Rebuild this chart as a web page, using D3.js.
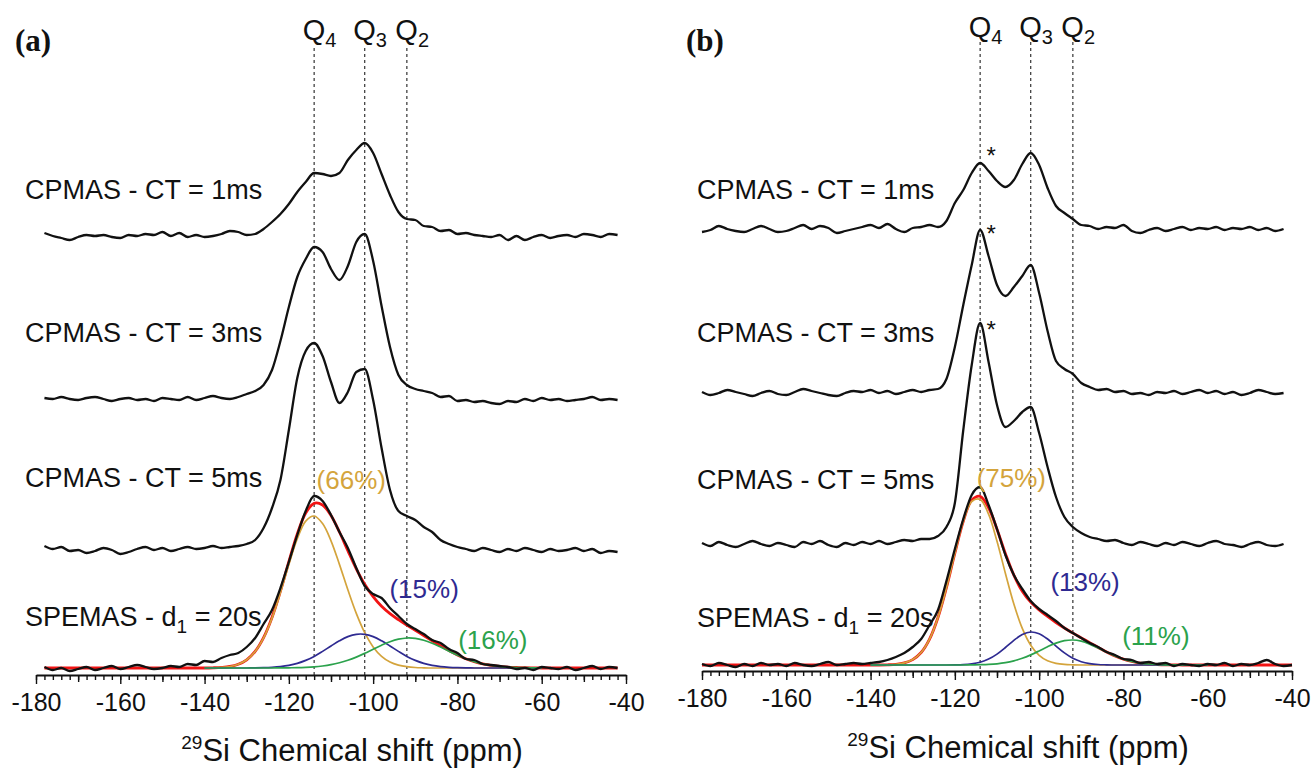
<!DOCTYPE html>
<html>
<head>
<meta charset="utf-8">
<script src="https://cdn.jsdelivr.net/npm/d3@7"></script>
<style>
  body { margin: 0; background: #fff; }
  svg { display: block; }
  text { font-family: "Liberation Sans", Arial, sans-serif; fill: #111; }
</style>
</head>
<body>
<svg id="chart" width="1312" height="774"></svg>
<script>
// ---------- chemical shift grids (ppm, 2 ppm steps) ----------
const ppmA   = d3.range(-178, -41, 2);   // panel (a) spectra
const ppmBcp = d3.range(-180, -41, 2);   // panel (b) CPMAS spectra
const ppmBsp = d3.range(-180, -39, 2);   // panel (b) SPEMAS spectrum
const ppmFit = d3.range(-140, -59, 2);   // deconvolution components

// ---------- axis ----------
const shiftDomain = [-180, -40];
const majorTicks = [-180, -160, -140, -120, -100, -80, -60, -40];
const tickLabels = ["-180", "-160", "-140", "-120", "-100", "-80", "-60", "-40"];
const qShifts = [-114, -102, -92];
const qSubs = ["4", "3", "2"];

const cpLabels = ["CPMAS - CT = 1ms", "CPMAS - CT = 3ms", "CPMAS - CT = 5ms"];

// ---------- panel (a) intensities (a.u.) ----------
const aCt1 = [3,0,-2,-4,-1,1,0,1,-1,-2, 1,0,2,1,4,0,3,-1,1,-1, 0,2,5,4,1,2,7,14,22,32,
  44,54,63,62,60,63,76,86,93,83, 62,41,24,17,16,10,9,5,6,2, 3,1,0,-1,1,-4,0,-4,-1,1,
  -2,0,1,-1,2,1,-1,2,1];
const aCt3 = [1,0,2,0,-1,1,2,0,-2,0, 1,-1,0,-2,1,0,-1,2,-1,1, 3,1,0,2,
  5,8,14,29,58,92,122,140,152,147, 130,119,133,157,165,138,93,52,24,14,
  10,8,6,2,3,-2,-1,-3,-2,-4, -5,-2,-3,0,-2,1,-1,0,-2,-1, 0,2,-1,0,-1];
const aCt5 = [4,1,3,-1,0,-3,-1,2,0,-4, -2,1,3,0,2,-1,1,3,1,2, 4,2,3,4,
  6,10,22,42,70,120,172,199,207,194, 168,147,158,178,181,150,102,60,39,34,
  30,23,18,10,6,3,1,-1,2,0, -2,1,-1,2,0,-2,1,-1,0,2, -1,1,-3,-1,-2];
const aSpe = [1,-2,0,-3,-1,1,-2,0,2,-1, 1,3,1,-1,0,2,1,
  4,3,7,6,10,13,15,21,30,44,58,80,106,133,157,172,167,153,136,120,100,82,74,70,60,52,44,39,34,28,
  25,19,15,9,8,4,3,2,1,-1,0,-2,1,0,-1,1,-2,0,2,-1,1,0];
const aGold  = [0,0.2,0.6,1.5,3.7,8.2,16.5,30.1,49.9,75.4, 103.5,129.2,146.9,152,144.4,127.2,103.6,78.2,54.6,35.3,
  21.1,11.7,6.0,2.9,1.3,0.5,0.2,0,0,0, 0,0,0,0,0,0,0,0,0,0, 0];
const aBlue  = [0,0,0,0,0,0,0.1,0.3,0.7,1.4, 2.6,4.6,7.6,11.6,16.6,22.0,27.2,31.4,33.7,33.7,
  31.4,27.2,22.0,16.6,11.6,7.6,4.6,2.6,1.4,0.7, 0.3,0.1,0,0,0,0,0,0,0,0, 0];
const aGreen = [0,0,0,0,0,0,0,0,0,0.1, 0.2,0.3,0.6,1.1,2.0,3.3,5.2,7.7,10.9,14.7,
  18.8,22.8,26.3,28.8,30.0,29.6,27.7,24.7,20.9,16.8, 12.8,9.2,6.4,4.2,2.6,1.5,0.8,0.5,0.3,0.1, 0];
const aPercent = [66, 15, 16];

// ---------- panel (b) intensities (a.u.) ----------
const bCt1 = [-2,0,4,1,-1,-2,1,4,1,-2, -1,2,5,1,4,2,-3,-1,1,3, 5,2,6,1,-2,2,3,5,3,9,
  27,40,57,67,59,49,43,50,66,77, 65,42,24,17,11,5,4,1,3,2, 5,-1,-3,0,2,-1,1,3,0,2,
  1,3,0,2,1,3,0,2,-1,1];
const bCt3 = [1,-2,0,3,1,-1,-3,0,2,-1, -2,1,4,2,0,-2,-3,0,2,1, 3,0,2,-1,1,3,1,3,4,14,
  46,88,128,163,137,108,97,106,117,128, 100,62,32,24,19,10,6,3,4,1, 2,-1,0,-2,1,0,2,-1,1,3,
  0,2,-1,1,-2,0,3,1,-1,0];
const bCt5 = [2,-1,3,0,-2,1,4,1,-1,2, 0,-2,3,1,4,0,-2,2,0,3, 1,4,1,3,5,4,6,6,9,18,
  42,115,180,222,183,140,118,124,133,138, 112,78,48,28,18,12,8,6,4,5, 2,0,3,1,-1,2,0,3,1,-1,
  2,4,1,0,-2,1,3,0,-1,1];
const bSpe = [1,-1,2,0,-2,1,-1,2,0,1, -1,2,0,-1,1,3,0,1,2,1, 2,3,5,8,12,18,26,40,55,84,
  116,146,170,178,160,136,110,90,76,64, 56,50,44,37,32,27,22,18,13,10, 6,5,2,3,1,2,-1,1,0,-1,
  1,0,2,-1,1,0,2,5,1,-1, 0];
const bGold  = [0,0,0.2,0.7,2.1,5.4,12.5,25.9,47.5,77.3, 111.7,143.4,163.5,165.6,150.8,123.7,91.5,61.0,36.6,19.8,
  9.7,4.2,1.7,0.6,0.2,0,0,0,0,0, 0,0,0,0,0,0,0,0,0,0, 0];
const bBlue  = [0,0,0,0,0,0,0,0,0,0, 0.1,0.4,1.2,2.8,5.9,10.9,17.5,24.7,30.5,33.0,
  31.3,26.0,18.9,12.1,6.7,3.3,1.4,0.5,0.2,0, 0,0,0,0,0,0,0,0,0,0, 0];
const bGreen = [0,0,0,0,0,0,0,0,0,0, 0,0,0.1,0.3,0.6,1.2,2.3,4.1,6.7,10.1,
  14.1,18.3,21.9,24.3,25.0,23.8,20.9,17.0,12.9,9.0, 5.8,3.5,1.9,1.0,0.5,0.2,0.1,0,0,0, 0];
const bPercent = [75, 13, 11];

// ---------- styling ----------
const compColors = ["#d4a43c", "#2e2a91", "#2ba24c"];
const fitColor = "#f21414";
const traceColor = "#111";

const panels = [
  {
    tag: "(a)", tagX: 15, x0: 36, x1: 626, base: 668, axisY: 675,
    qTop: 48, qBase: 40, labelX: 25, labelY: [199, 342, 487, 626], titleY: 761,
    cpGrid: ppmA, spGrid: ppmA, cp: [aCt1, aCt3, aCt5], offsets: [432, 269, 118],
    spe: aSpe, comps: [aGold, aBlue, aGreen], pct: aPercent,
    pctPos: [[-105.2, 489], [-87.9, 598], [-71.6, 649]], stars: []
  },
  {
    tag: "(b)", tagX: 686, x0: 702, x1: 1292, base: 665, axisY: 671,
    qTop: 42, qBase: 37, labelX: 697, labelY: [199, 342, 489, 627], titleY: 758,
    cpGrid: ppmBcp, spGrid: ppmBsp, cp: [bCt1, bCt3, bCt5], offsets: [435, 272, 120],
    spe: bSpe, comps: [bGold, bBlue, bGreen], pct: bPercent,
    pctPos: [[-106.6, 487], [-89.1, 591], [-72.3, 645]],
    stars: [[-111.4, 514], [-111.4, 436], [-111.4, 340]]
  }
];

const svg = d3.select("#chart");

panels.forEach(p => {
  const g = svg.append("g");
  const x = d3.scaleLinear().domain(shiftDomain).range([p.x0, p.x1]);
  const y = d3.scaleLinear().domain([0, 620]).range([p.base, p.base - 620]);

  // panel tag
  g.append("text").attr("x", p.tagX).attr("y", 51)
    .style("font-family", '"Liberation Serif", "Times New Roman", serif')
    .style("font-weight", "bold").style("font-size", "31px").text(p.tag);

  // Q-site reference lines and labels
  qShifts.forEach((s, i) => {
    g.append("line").attr("x1", x(s)).attr("x2", x(s))
      .attr("y1", p.qTop).attr("y2", p.axisY)
      .attr("stroke", "#333").attr("stroke-width", 1.2).attr("stroke-dasharray", "3,3");
    const t = g.append("text").attr("x", x(s) - 11.5).attr("y", p.qBase).style("font-size", "29px");
    t.append("tspan").text("Q");
    t.append("tspan").attr("dy", 7).style("font-size", "20px").text(qSubs[i]);
  });

  // axis: minor (2 ppm), mid (10 ppm), major (20 ppm)
  const minorAx = d3.axisBottom(x).tickValues(d3.range(-180, -39, 2)).tickSize(5).tickSizeOuter(0).tickFormat("");
  const midAx = d3.axisBottom(x).tickValues(d3.range(-170, -40, 20)).tickSize(7).tickSizeOuter(0).tickFormat("");
  const majorAx = d3.axisBottom(x).tickValues(majorTicks).tickSize(9).tickSizeOuter(0)
    .tickPadding(9).tickFormat((d, i) => tickLabels[i]);
  [minorAx, midAx, majorAx].forEach((ax, k) => {
    const a = g.append("g").attr("transform", `translate(0,${p.axisY})`).call(ax);
    a.select(".domain").attr("stroke", "#111").attr("stroke-width", k === 2 ? 2 : 0);
    a.selectAll(".tick line").attr("stroke", "#111").attr("stroke-width", 1.4);
    a.selectAll(".tick text").style("font-size", "25px").attr("fill", "#111");
  });

  // axis title
  const tt = g.append("text").attr("x", x(-105)).attr("y", p.titleY)
    .attr("text-anchor", "middle").style("font-size", "31px");
  tt.append("tspan").attr("dy", -12).style("font-size", "19px").text("29");
  tt.append("tspan").attr("dy", 12).text("Si Chemical shift (ppm)");

  const mkLine = (grid, off, curve) => d3.line()
    .x((d, i) => x(grid[i]))
    .y(d => y(d + off))
    .curve(curve);
  const rawCurve = d3.curveMonotoneX;
  const fitCurve = d3.curveCatmullRom.alpha(0.5);

  // CPMAS spectra
  p.cp.forEach((vals, k) => {
    g.append("path").datum(vals).attr("d", mkLine(p.cpGrid, p.offsets[k], rawCurve))
      .attr("fill", "none").attr("stroke", traceColor).attr("stroke-width", 2.3)
      .attr("stroke-linejoin", "round");
    g.append("text").attr("x", p.labelX).attr("y", p.labelY[k])
      .style("font-size", "27px").text(cpLabels[k]);
  });

  // total fit = sum of the components on the SPEMAS grid
  const fit = p.spGrid.map(s => {
    const j = ppmFit.indexOf(s);
    return j < 0 ? 0 : p.comps[0][j] + p.comps[1][j] + p.comps[2][j];
  });
  g.append("path").datum(fit).attr("d", mkLine(p.spGrid, 0, fitCurve))
    .attr("fill", "none").attr("stroke", fitColor).attr("stroke-width", 2.8);
  p.comps.forEach((vals, k) => {
    g.append("path").datum(vals).attr("d", mkLine(ppmFit, 0, fitCurve))
      .attr("fill", "none").attr("stroke", compColors[k]).attr("stroke-width", 1.7);
  });
  g.append("path").datum(p.spe).attr("d", mkLine(p.spGrid, 0, rawCurve))
    .attr("fill", "none").attr("stroke", traceColor).attr("stroke-width", 2.3)
    .attr("stroke-linejoin", "round");

  // SPEMAS label
  const sl = g.append("text").attr("x", p.labelX).attr("y", p.labelY[3]).style("font-size", "27px");
  sl.append("tspan").text("SPEMAS - d");
  sl.append("tspan").attr("dy", 7).style("font-size", "19px").text("1");
  sl.append("tspan").attr("dy", -7).text(" = 20s");

  // component percentages
  p.pct.forEach((v, k) => {
    g.append("text").attr("x", x(p.pctPos[k][0])).attr("y", p.pctPos[k][1])
      .attr("text-anchor", "middle").style("font-size", "26px")
      .style("fill", compColors[k]).text(`(${v}%)`);
  });

  // asterisks on the Q4 maxima
  p.stars.forEach(s => {
    g.append("text").attr("x", x(s[0])).attr("y", y(s[1]) + 13)
      .attr("text-anchor", "middle").style("font-size", "24px").text("*");
  });
});
</script>
</body>
</html>
